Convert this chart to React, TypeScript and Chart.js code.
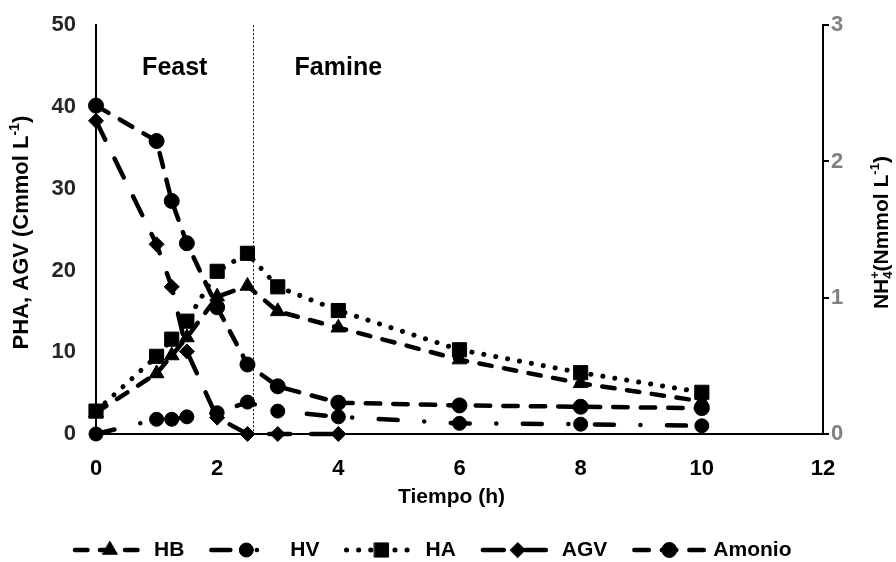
import React, { useEffect, useRef } from 'react';
import { Chart, registerables } from 'chart.js';
import { drawPoint } from 'chart.js/helpers';

Chart.register(...registerables);

// ---------- data ----------
const times = [0, 1, 1.25, 1.5, 2, 2.5, 3, 4, 6, 8, 10];
const hbValues = [2.6, 7.4, 9.6, 11.8, 16.8, 18.1, 15.0, 13.0, 9.1, 6.2, 4.0];
const hvValues = [0, 1.8, 1.8, 2.1, 2.6, 3.9, 2.8, 2.1, 1.3, 1.2, 1.0];
const haValues = [2.8, 9.5, 11.6, 13.8, 19.9, 22.1, 18.0, 15.1, 10.3, 7.5, 5.1];
const agvTimes = [0, 1, 1.25, 1.5, 2, 2.5, 3, 4];
const agvValues = [38.3, 23.2, 18.0, 10.1, 2.0, 0, 0, 0];
const amonioValues = [2.41, 2.15, 1.71, 1.40, 0.93, 0.51, 0.35, 0.23, 0.21, 0.20, 0.19];

const seriesNames = ['HB', 'HV', 'HA', 'AGV', 'Amonio'];
const xTicks = [0, 2, 4, 6, 8, 10, 12];
const leftTicks = [0, 10, 20, 30, 40, 50];
const rightTicks = [0, 1, 2, 3];
const xTitle = 'Tiempo (h)';
const phaseBoundary = 2.6;
const phaseLabels = ['Feast', 'Famine'];
const phaseLabelX = [1.3, 4.0];
const phaseLabelY = 44.7;

const FONT = "'Liberation Sans', Arial, sans-serif";

type Part = { t: string; s: number; dy: number; noAdvance?: boolean };

function drawRich(ctx: CanvasRenderingContext2D, parts: Part[], cx: number, cy: number, angle: number) {
  ctx.save();
  ctx.translate(cx, cy);
  ctx.rotate(angle);
  ctx.textBaseline = 'middle';
  ctx.textAlign = 'left';
  ctx.fillStyle = '#000';
  let total = 0;
  for (const p of parts) {
    ctx.font = `bold ${p.s}px ${FONT}`;
    if (!p.noAdvance) total += ctx.measureText(p.t).width;
  }
  let x = -total / 2;
  for (const p of parts) {
    ctx.font = `bold ${p.s}px ${FONT}`;
    ctx.fillText(p.t, x, p.dy);
    if (!p.noAdvance) x += ctx.measureText(p.t).width;
  }
  ctx.restore();
}

const decorPlugin = {
  id: 'decor',
  beforeDatasetsDraw(chart: any) {
    const { ctx, chartArea, scales } = chart;
    const px = scales.x.getPixelForValue(phaseBoundary);
    ctx.save();
    ctx.strokeStyle = '#000';
    ctx.lineWidth = 1;
    ctx.setLineDash([2, 2]);
    ctx.beginPath();
    ctx.moveTo(px, chartArea.top);
    ctx.lineTo(px, chartArea.bottom);
    ctx.stroke();
    ctx.restore();
  },
  afterDraw(chart: any) {
    const { ctx, chartArea, scales } = chart;
    ctx.save();
    ctx.fillStyle = '#000';
    ctx.font = `bold 25px ${FONT}`;
    ctx.textAlign = 'center';
    ctx.textBaseline = 'middle';
    phaseLabels.forEach((t, i) => {
      ctx.fillText(t, scales.x.getPixelForValue(phaseLabelX[i]), scales.y.getPixelForValue(phaseLabelY));
    });
    // x title
    ctx.font = `bold 21px ${FONT}`;
    ctx.fillText(xTitle, (chartArea.left + chartArea.right) / 2 - 8, 497);
    ctx.restore();

    const midY = (chartArea.top + chartArea.bottom) / 2 + 3;
    drawRich(ctx, [
      { t: 'PHA, AGV (Cmmol L', s: 22, dy: 0 },
      { t: '-1', s: 14, dy: -7 },
      { t: ')', s: 22, dy: 0 },
    ], 22, midY, -Math.PI / 2);
    drawRich(ctx, [
      { t: 'NH', s: 21, dy: 0 },
      { t: '+', s: 13, dy: -7, noAdvance: true },
      { t: '4', s: 13, dy: 6 },
      { t: '(Nmmol L', s: 21, dy: 0 },
      { t: '-1', s: 13, dy: -7 },
      { t: ')', s: 21, dy: 0 },
    ], 882, midY, -Math.PI / 2);

    // legend
    const y = 550;
    let x = 75;
    const sample = 70;
    chart.data.datasets.forEach((ds: any) => {
      ctx.save();
      ctx.strokeStyle = '#000';
      ctx.fillStyle = '#000';
      ctx.lineWidth = ds.borderWidth;
      ctx.lineCap = ds.borderCapStyle;
      ctx.setLineDash(ds.borderDash);
      ctx.beginPath();
      ctx.moveTo(x, y);
      ctx.lineTo(x + sample, y);
      ctx.stroke();
      ctx.setLineDash([]);
      ctx.lineWidth = 1;
      drawPoint(ctx, { pointStyle: ds.pointStyle, radius: ds.pointRadius, borderWidth: 1, rotation: 0 } as any, x + sample / 2, y);
      ctx.font = `bold 21px ${FONT}`;
      ctx.textAlign = 'left';
      ctx.textBaseline = 'middle';
      ctx.fillText(ds.label, x + sample + 9, y);
      const w = ctx.measureText(ds.label).width;
      ctx.restore();
      x += sample + 9 + w + 27;
    });
  },
};

function pts(xs: number[], ys: number[]) {
  return xs.map((x, i) => ({ x, y: ys[i] }));
}

export default function App() {
  const ref = useRef<HTMLCanvasElement>(null);
  useEffect(() => {
    if (!ref.current) return;
    const common = {
      borderColor: '#000',
      backgroundColor: '#000',
      pointBackgroundColor: '#000',
      pointBorderColor: '#000',
      pointBorderWidth: 1,
      borderWidth: 4.5,
      borderCapStyle: 'round',
      borderJoinStyle: 'round',
      fill: false,
      tension: 0,
      clip: false as any,
    };
    const chart = new Chart(ref.current, {
      type: 'line',
      data: {
        datasets: [
          { ...common, label: seriesNames[0], data: pts(times, hbValues), yAxisID: 'y', borderDash: [12.5, 12.5], pointStyle: 'triangle', pointRadius: 8.5 },
          { ...common, label: seriesNames[1], data: pts(times, hvValues), yAxisID: 'y', borderDash: [19, 26.5, 0.1, 26.5], pointStyle: 'circle', pointRadius: 7 },
          { ...common, label: seriesNames[2], data: pts(times, haValues), yAxisID: 'y', borderWidth: 5, borderDash: [0.1, 12], pointStyle: 'rect', pointRadius: 10 },
          { ...common, label: seriesNames[3], data: pts(agvTimes, agvValues), yAxisID: 'y', borderDash: [21, 21], pointStyle: 'rectRot', pointRadius: 7.5 },
          { ...common, label: seriesNames[4], data: pts(times, amonioValues), yAxisID: 'y1', borderDash: [14.5, 13], pointStyle: 'circle', pointRadius: 7.5 },
        ] as any,
      },
      options: {
        animation: false,
        responsive: true,
        maintainAspectRatio: false,
        layout: { padding: { top: 19, left: 0, right: 0, bottom: 0 } },
        plugins: { legend: { display: false }, tooltip: { enabled: false } },
        scales: {
          x: {
            type: 'linear',
            min: 0,
            max: 12,
            afterBuildTicks: (s: any) => { s.ticks = xTicks.map((v) => ({ value: v })); },
            afterFit: (s: any) => { s.height = 128; },
            grid: { display: false },
            border: { display: true, color: '#000', width: 2 },
            ticks: { color: '#000', font: { family: FONT, size: 22, weight: 'bold' }, padding: 14, maxRotation: 0 },
          },
          y: {
            type: 'linear',
            position: 'left',
            min: 0,
            max: 50,
            afterBuildTicks: (s: any) => { s.ticks = leftTicks.map((v) => ({ value: v })); },
            afterFit: (s: any) => { s.width = 96; },
            grid: { display: false },
            border: { display: true, color: '#000', width: 2 },
            ticks: { color: '#262626', font: { family: FONT, size: 22, weight: 'bold' }, padding: 12 },
          },
          y1: {
            type: 'linear',
            position: 'right',
            min: 0,
            max: 3,
            afterBuildTicks: (s: any) => { s.ticks = rightTicks.map((v) => ({ value: v })); },
            afterFit: (s: any) => { s.width = 73; },
            grid: { display: true, drawOnChartArea: false, drawTicks: true, tickLength: 6, color: '#000', lineWidth: 2 },
            border: { display: true, color: '#000', width: 2 },
            ticks: { color: '#808080', font: { family: FONT, size: 22, weight: 'bold' }, padding: 2 },
          },
        },
      } as any,
      plugins: [decorPlugin],
    });
    return () => chart.destroy();
  }, []);
  return (
    <div style={{ position: 'fixed', left: 0, top: 0, width: 896, height: 562, background: '#fff' }}>
      <canvas ref={ref} />
    </div>
  );
}
